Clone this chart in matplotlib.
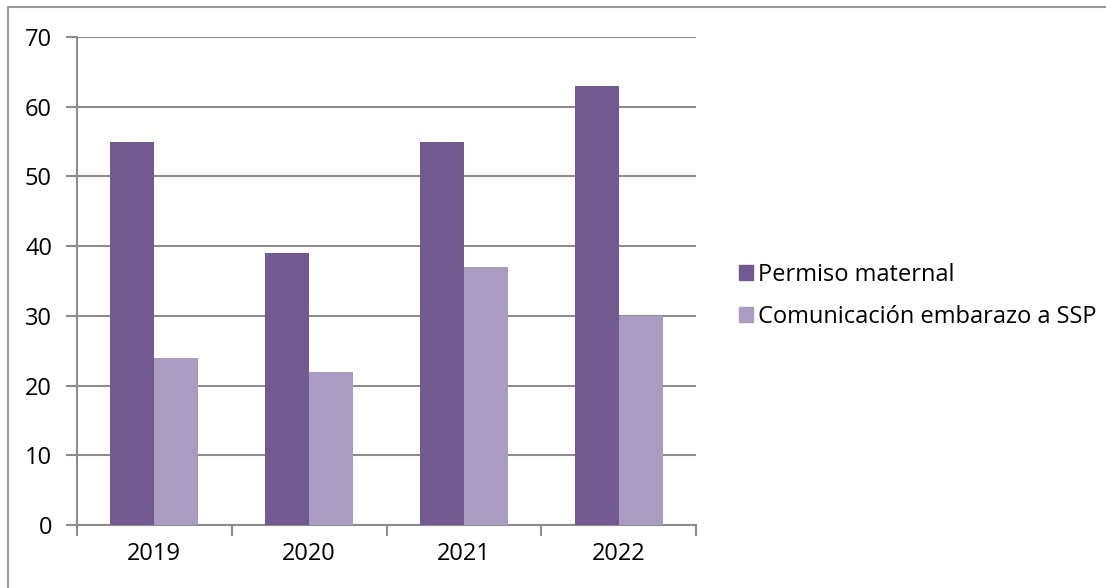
import numpy as np
import matplotlib.pyplot as plt
from matplotlib.patches import Rectangle, Patch

years = ["2019", "2020", "2021", "2022"]
permiso_maternal = [55, 39, 55, 63]
comunicacion_ssp = [24, 22, 37, 30]
series_names = ["Permiso maternal", "Comunicación embarazo a SSP"]

dark_purple = "#72598f"
light_purple = "#aa9bc0"
grid_gray = "#8c8c8c"

plt.rcParams["font.family"] = ["Open Sans", "DejaVu Sans"]

fig = plt.figure(figsize=(11.06, 5.88), dpi=100)
ax = fig.add_axes([77 / 1106, 1 - 525 / 588, (696 - 77) / 1106, (525 - 37) / 588])

# bars sit in the middle of each category slot
x = np.arange(len(years))
width = 0.285
ax.bar(x - width / 2, permiso_maternal, width, color=dark_purple, zorder=3)
ax.bar(x + width / 2, comunicacion_ssp, width, color=light_purple, zorder=3)

ax.set_xlim(-0.5, len(years) - 0.5)
ax.set_ylim(0, 70)
ax.set_yticks(range(0, 71, 10))
ax.yaxis.grid(True, color=grid_gray, linewidth=1.5, zorder=0)

# category labels centred, tick marks at category boundaries
ax.set_xticks(x)
ax.set_xticklabels(years)
ax.tick_params(axis="x", length=0, labelsize=17, pad=12)
ax.set_xticks(np.arange(-0.5, len(years)), minor=True)
ax.tick_params(axis="x", which="minor", length=8, width=1.5, color=grid_gray)
ax.tick_params(axis="y", length=8, width=1.5, color=grid_gray, labelsize=17, pad=10)

for side in ["top", "right"]:
    ax.spines[side].set_visible(False)
for side in ["left", "bottom"]:
    ax.spines[side].set_color(grid_gray)
    ax.spines[side].set_linewidth(1.5)

handles = [Patch(color=dark_purple), Patch(color=light_purple)]
fig.legend(handles, series_names, loc="center left", bbox_to_anchor=(727 / 1106, 1 - 296 / 588),
           frameon=False, fontsize=17, handlelength=0.6, handleheight=0.6,
           handletextpad=0.2, labelspacing=0.75, borderpad=0)

# outer chart frame
fig.patches.append(Rectangle((8 / 1106, -0.05), 1.1, 1 - 7 / 588 + 0.05, transform=fig.transFigure,
                             fill=False, edgecolor="#999999", linewidth=1.5))

fig.savefig("out.png", dpi=100)
